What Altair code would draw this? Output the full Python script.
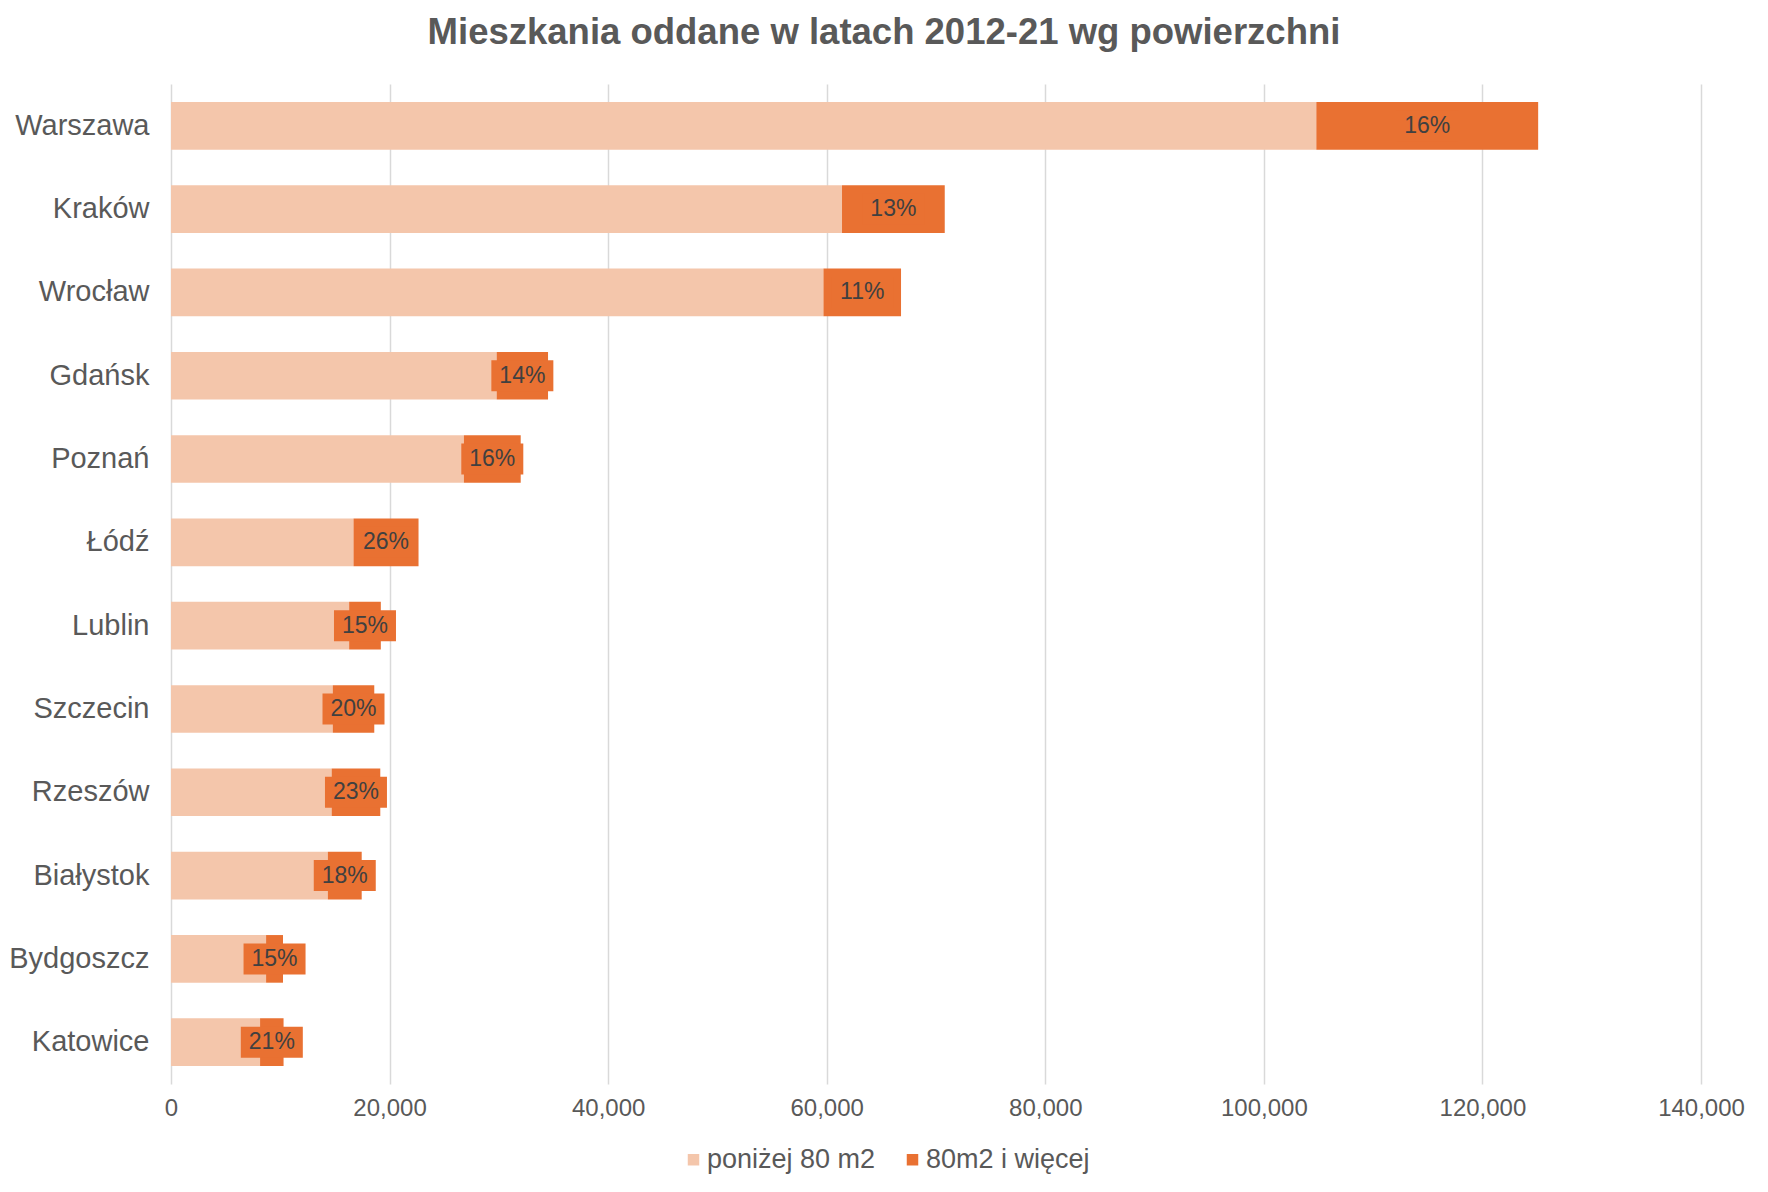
import altair as alt
import pandas as pd

cities = ["Warszawa", "Kraków", "Wrocław", "Gdańsk", "Poznań", "Łódź",
          "Lublin", "Szczecin", "Rzeszów", "Białystok", "Bydgoszcz", "Katowice"]
below_80 = [104800, 61400, 59700, 29800, 26800, 16700,
            16300, 14800, 14700, 14350, 8700, 8150]
above_80 = [20300, 9400, 7100, 4700, 5200, 5950,
            2900, 3800, 4450, 3100, 1550, 2150]
share_labels = ["16%", "13%", "11%", "14%", "16%", "26%",
                "15%", "20%", "23%", "18%", "15%", "21%"]
series = ["poniżej 80 m2", "80m2 i więcej"]
x_ticks = [0, 20000, 40000, 60000, 80000, 100000, 120000, 140000]

LIGHT = "#F4C6AB"
ORANGE = "#E97132"
TEXT = "#595959"
FONT = "Liberation Sans"

rows = []
for c, a, b in zip(cities, below_80, above_80):
    rows.append({"city": c, "series": series[0], "value": a, "ord": 0})
    rows.append({"city": c, "series": series[1], "value": b, "ord": 1})
long_df = pd.DataFrame(rows)

lab_df = pd.DataFrame({"city": cities, "small": below_80, "large": above_80,
                       "label": share_labels})

y_enc = alt.Y("city:N", sort=cities,
              scale=alt.Scale(paddingInner=0.428, paddingOuter=0.216),
              axis=alt.Axis(title=None, domain=False, ticks=False, grid=False,
                            labelFontSize=29, labelColor=TEXT, labelFont=FONT,
                            labelPadding=22))

x_scale = alt.Scale(domain=[0, 140000], nice=False)

bars = alt.Chart(long_df).mark_bar().encode(
    x=alt.X("value:Q", stack="zero", scale=x_scale,
            axis=alt.Axis(title=None, values=x_ticks, format=",d", grid=True,
                          gridColor="#D9D9D9", gridWidth=1.5, domain=False,
                          ticks=False, labelFontSize=24, labelColor=TEXT,
                          labelFont=FONT, labelPadding=12, labelFlush=False)),
    y=y_enc,
    color=alt.Color("series:N", sort=series,
                    scale=alt.Scale(domain=series, range=[LIGHT, ORANGE]),
                    legend=alt.Legend(title=None, orient="none", legendX=509,
                                      legendY=1062, direction="horizontal",
                                      symbolType="square", symbolSize=132,
                                      symbolStrokeWidth=0,
                                      labelFontSize=27, labelColor=TEXT,
                                      labelFont=FONT, labelLimit=400,
                                      columnPadding=23, labelOffset=0)),
    order=alt.Order("ord:Q"),
)

base_lab = alt.Chart(lab_df).transform_calculate(
    mid="datum.small + datum.large / 2"
)

boxes = base_lab.mark_point(
    shape="M-1,-0.5H1V0.5H-1Z", filled=True, opacity=1, color=ORANGE,
    size=3844, strokeWidth=0
).encode(
    x=alt.X("mid:Q", scale=x_scale),
    y=alt.Y("city:N", sort=cities),
)

texts = base_lab.mark_text(
    fontSize=23, color="#404040", font=FONT, align="center", baseline="middle"
).encode(
    x=alt.X("mid:Q", scale=x_scale),
    y=alt.Y("city:N", sort=cities),
    text="label:N",
)

chart = alt.layer(bars, boxes, texts).properties(
    width=1530, height=1000,
    background="white",
    title=alt.TitleParams("Mieszkania oddane w latach 2012-21 wg powierzchni",
                          fontSize=36.5, fontWeight="bold", color=TEXT,
                          font=FONT, anchor="middle", dx=-52,
                          baseline="alphabetic", offset=4),
    autosize=alt.AutoSizeParams(type="none"),
    padding={"left": 163, "top": 76, "right": 50, "bottom": 100},
).configure_view(stroke=None)

chart.save("out.html", embed_options={"renderer": "svg", "actions": False})
